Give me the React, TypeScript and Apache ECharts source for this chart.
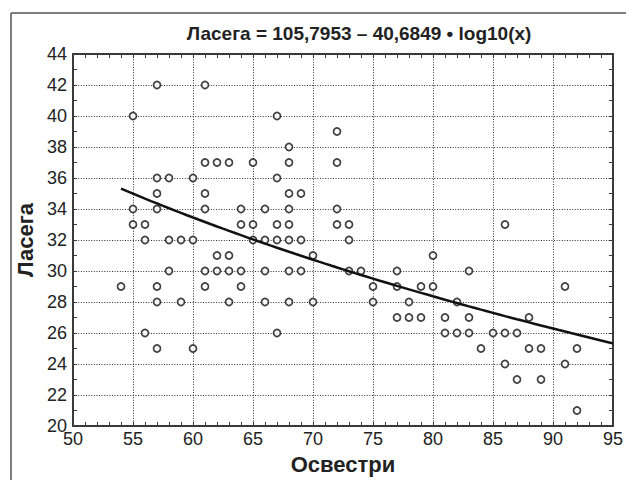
import React, { useEffect, useRef } from "react";
import * as echarts from "echarts";

// Освестри (x) and Ласега (y) values of each observation
const osvestri = [
  54,
  55, 55, 55,
  56, 56, 56,
  57, 57, 57, 57, 57, 57, 57,
  58, 58, 58,
  59, 59,
  60, 60, 60,
  61, 61, 61, 61, 61, 61,
  62, 62, 62,
  63, 63, 63, 63,
  64, 64, 64, 64,
  65, 65, 65,
  66, 66, 66, 66,
  67, 67, 67, 67, 67,
  68, 68, 68, 68, 68, 68, 68, 68,
  69, 69, 69,
  70, 70,
  72, 72, 72, 72,
  73, 73, 73,
  74,
  75, 75,
  77, 77, 77,
  78, 78,
  79, 79,
  80, 80,
  81, 81,
  82, 82,
  83, 83, 83,
  84,
  85,
  86, 86, 86,
  87, 87,
  88, 88,
  89, 89,
  91, 91,
  92, 92,
];
const lasega = [
  29,
  40, 34, 33,
  33, 32, 26,
  42, 36, 35, 34, 29, 28, 25,
  36, 32, 30,
  32, 28,
  36, 32, 25,
  42, 37, 35, 34, 30, 29,
  37, 31, 30,
  37, 31, 30, 28,
  34, 33, 30, 29,
  37, 33, 32,
  34, 32, 30, 28,
  40, 36, 33, 32, 26,
  38, 37, 35, 34, 33, 32, 30, 28,
  35, 32, 30,
  31, 28,
  39, 37, 34, 33,
  33, 32, 30,
  30,
  29, 28,
  30, 29, 27,
  28, 27,
  29, 27,
  31, 29,
  27, 26,
  28, 26,
  30, 27, 26,
  25,
  26,
  33, 26, 24,
  26, 23,
  27, 25,
  25, 23,
  29, 24,
  25, 21,
];

// fitted model: Ласега = A – B • log10(x)
const fitA = 105.7953;
const fitB = 40.6849;
const fitRange = [54, 95];

const xTicks = [50, 95, 5];
const yTicks = [20, 44, 2];

const titleText = "Ласега = 105,7953 – 40,6849 • log10(x)";
const xName = "Освестри";
const yName = "Ласега";

const FONT = "'Liberation Sans', Arial, sans-serif";

export default function App() {
  const ref = useRef<HTMLDivElement>(null);
  useEffect(() => {
    if (!ref.current) return;
    const chart = echarts.init(ref.current, null, { renderer: "svg" });
    const points = osvestri.map((x, i) => [x, lasega[i]]);
    const fit: number[][] = [];
    for (let x = fitRange[0]; x <= fitRange[1] + 1e-9; x += 0.5) {
      fit.push([x, fitA - fitB * Math.log10(x)]);
    }
    const axisColor = "#3a3a3a";
    const common = {
      axisLine: { show: true, onZero: false, lineStyle: { color: axisColor, width: 2 } },
      axisTick: { show: true, inside: true, length: 4, lineStyle: { color: axisColor, width: 1 } },
      minorTick: { show: true, length: 4, lineStyle: { color: axisColor, width: 1 } },
    };
    const labelStyle = { fontFamily: FONT, fontSize: 18, color: "#222", margin: 6 };
    const nameStyle = { fontFamily: FONT, fontSize: 22, fontWeight: "bold", color: "#222" };
    chart.setOption({
      animation: false,
      backgroundColor: "#ffffff",
      title: {
        text: titleText,
        left: 354,
        top: 19,
        textAlign: "center",
        textStyle: { fontFamily: FONT, fontSize: 19, fontWeight: "bold", color: "#222" },
      },
      graphic: [
        { type: "line", shape: { x1: 11, y1: 13, x2: 11, y2: 480 }, style: { stroke: "#555", lineWidth: 1.5 } },
        { type: "line", shape: { x1: 11, y1: 13, x2: 626, y2: 13 }, style: { stroke: "#555", lineWidth: 1.5 } },
      ],
      grid: { left: 73, top: 54, width: 540, height: 374, containLabel: false },
      xAxis: [
        {
          type: "value",
          min: xTicks[0],
          max: xTicks[1],
          interval: xTicks[2],
          position: "bottom",
          name: xName,
          nameLocation: "middle",
          nameGap: 27,
          nameTextStyle: nameStyle,
          axisLabel: { ...labelStyle, margin: 4 },
          splitLine: { show: true, lineStyle: { color: "#333", width: 1, type: [1, 1.6] } },
          ...common,
          minorTick: { ...common.minorTick, splitNumber: 5 },
        },
        {
          type: "value",
          min: xTicks[0],
          max: xTicks[1],
          interval: xTicks[2],
          position: "top",
          axisLabel: { show: false },
          splitLine: { show: false },
          ...common,
          minorTick: { ...common.minorTick, splitNumber: 5 },
        },
      ],
      yAxis: [
        {
          type: "value",
          min: yTicks[0],
          max: yTicks[1],
          interval: yTicks[2],
          position: "left",
          name: yName,
          nameLocation: "middle",
          nameGap: 29,
          nameRotate: 90,
          nameTextStyle: nameStyle,
          axisLabel: labelStyle,
          splitLine: { show: true, lineStyle: { color: "#333", width: 1, type: [1, 1.6] } },
          ...common,
          minorTick: { ...common.minorTick, splitNumber: 2 },
        },
        {
          type: "value",
          min: yTicks[0],
          max: yTicks[1],
          interval: yTicks[2],
          position: "right",
          axisLabel: { show: false },
          splitLine: { show: false },
          ...common,
          minorTick: { ...common.minorTick, splitNumber: 2 },
        },
      ],
      series: [
        {
          type: "scatter",
          data: points,
          symbol: "circle",
          symbolSize: 7,
          itemStyle: { color: "#ffffff", borderColor: "#111", borderWidth: 1.7 },
          z: 3,
        },
        {
          type: "line",
          data: fit,
          showSymbol: false,
          symbol: "none",
          smooth: false,
          lineStyle: { color: "#111", width: 2.5 },
          z: 4,
        },
      ],
    });
    return () => chart.dispose();
  }, []);
  return <div ref={ref} style={{ position: "fixed", left: 0, top: 0, width: 626, height: 480 }} />;
}
